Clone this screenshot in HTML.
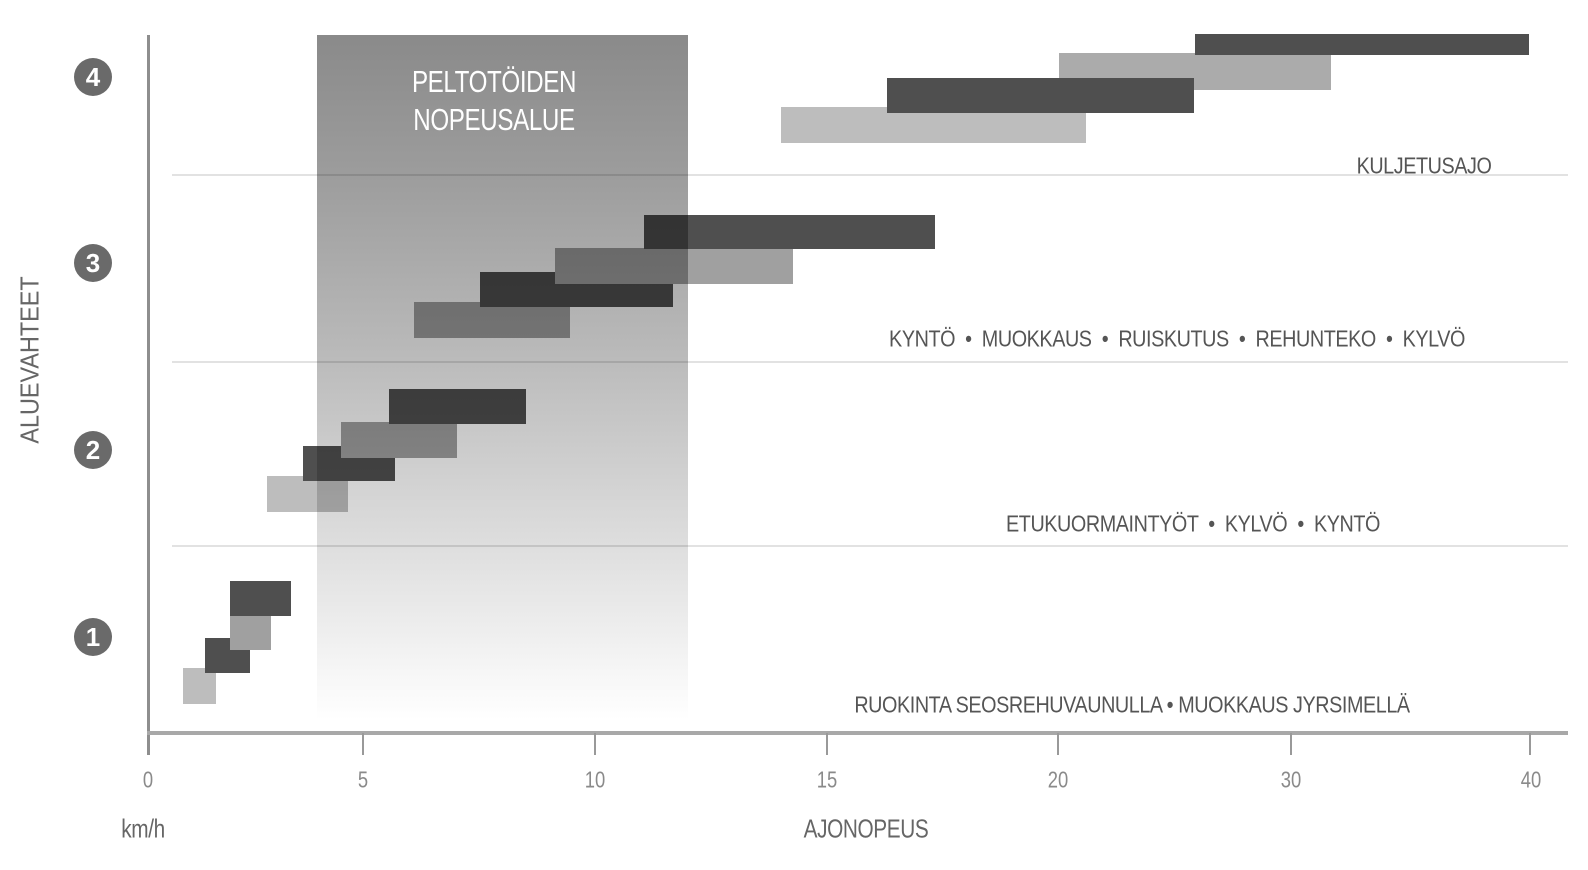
<!DOCTYPE html>
<html><head><meta charset="utf-8"><style>
html,body{margin:0;padding:0;background:#fff}
body{width:1588px;height:870px;position:relative;overflow:hidden;font-family:"Liberation Sans",sans-serif}
.a{position:absolute}
.b{position:absolute}
.L{background:#bdbdbd}.M{background:#a0a0a0}.D{background:#4f4f4f}.M2{background:#ababab}
.t{position:absolute;white-space:nowrap;transform:translate(-50%,-50%) scaleX(.86);color:#555;font-size:23px;letter-spacing:-0.5px}
.n{position:absolute;white-space:nowrap;transform:translate(-50%,-50%) scaleX(.8);color:#8a8a8a;font-size:23px}
.c{position:absolute;width:38px;height:38px;border-radius:50%;background:#6a6a6a;color:#fff;font-weight:bold;font-size:26px;line-height:38px;text-align:center}
.g{position:absolute;left:172px;width:1396px;height:2px;background:#e2e2e2}
</style></head><body>
<div class="g" style="top:174px"></div>
<div class="g" style="top:361px"></div>
<div class="g" style="top:545px"></div>
<!-- bars level1 -->
<div class="b L" style="left:183px;top:668px;width:33px;height:36px"></div>
<div class="b D" style="left:205px;top:638px;width:45px;height:35px"></div>
<div class="b M" style="left:230px;top:614px;width:41px;height:36px"></div>
<div class="b D" style="left:230px;top:581px;width:61px;height:35px"></div>
<!-- level2 -->
<div class="b L" style="left:267px;top:476px;width:81px;height:36px"></div>
<div class="b D" style="left:303px;top:446px;width:92px;height:35px"></div>
<div class="b M" style="left:341px;top:422px;width:116px;height:36px"></div>
<div class="b D" style="left:389px;top:389px;width:137px;height:35px"></div>
<!-- level3 -->
<div class="b M" style="left:414px;top:302px;width:156px;height:36px"></div>
<div class="b D" style="left:480px;top:272px;width:193px;height:35px"></div>
<div class="b M" style="left:555px;top:248px;width:238px;height:36px"></div>
<div class="b D" style="left:644px;top:215px;width:291px;height:34px"></div>
<!-- level4 -->
<div class="b L" style="left:781px;top:107px;width:305px;height:36px"></div>
<div class="b M2" style="left:1059px;top:53px;width:272px;height:37px"></div>
<div class="b D" style="left:887px;top:78px;width:307px;height:35px"></div>
<div class="b D" style="left:1195px;top:34px;width:334px;height:21px"></div>
<!-- band overlay -->
<div class="a" style="left:317px;top:35px;width:371px;height:685px;mix-blend-mode:multiply;background:linear-gradient(#8a8a8a 0%,#9c9c9c 20%,#b8b8b8 45%,#d8d8d8 70%,#fff 100%)"></div>
<!-- axes -->
<div class="a" style="left:147px;top:35px;width:3px;height:720px;background:#8e8e8e"></div>
<div class="a" style="left:147px;top:731px;width:1421px;height:4px;background:#a8a8a8"></div>
<div class="a" style="left:362px;top:733px;width:2px;height:22px;background:#999"></div>
<div class="a" style="left:594px;top:733px;width:2px;height:22px;background:#999"></div>
<div class="a" style="left:826px;top:733px;width:2px;height:22px;background:#999"></div>
<div class="a" style="left:1057px;top:733px;width:2px;height:22px;background:#999"></div>
<div class="a" style="left:1290px;top:733px;width:2px;height:22px;background:#999"></div>
<div class="a" style="left:1529px;top:733px;width:2px;height:22px;background:#999"></div>
<!-- band text -->
<div class="t" style="left:494px;top:82px;color:#fff;font-size:31px;transform:translate(-50%,-50%) scaleX(.78)">PELTOTÖIDEN</div>
<div class="t" style="left:494px;top:120px;color:#fff;font-size:31px;transform:translate(-50%,-50%) scaleX(.78)">NOPEUSALUE</div>
<!-- circles -->
<div class="c" style="left:74px;top:58px">4</div>
<div class="c" style="left:74px;top:244px">3</div>
<div class="c" style="left:74px;top:431px">2</div>
<div class="c" style="left:74px;top:618px">1</div>
<!-- labels -->
<div class="t" style="left:1424px;top:166px">KULJETUSAJO</div>
<div class="t" style="left:1177px;top:339px">KYNTÖ &nbsp;•&nbsp; MUOKKAUS &nbsp;•&nbsp; RUISKUTUS &nbsp;•&nbsp; REHUNTEKO &nbsp;•&nbsp; KYLVÖ</div>
<div class="t" style="left:1193px;top:524px">ETUKUORMAINTYÖT &nbsp;•&nbsp; KYLVÖ &nbsp;•&nbsp; KYNTÖ</div>
<div class="t" style="left:1132px;top:705px">RUOKINTA SEOSREHUVAUNULLA • MUOKKAUS JYRSIMELLÄ</div>
<!-- tick labels -->
<div class="n" style="left:148px;top:780px">0</div>
<div class="n" style="left:363px;top:780px">5</div>
<div class="n" style="left:595px;top:780px">10</div>
<div class="n" style="left:827px;top:780px">15</div>
<div class="n" style="left:1058px;top:780px">20</div>
<div class="n" style="left:1291px;top:780px">30</div>
<div class="n" style="left:1531px;top:780px">40</div>
<div class="t" style="left:143px;top:829px;color:#666;font-size:26px;transform:translate(-50%,-50%) scaleX(.8)">km/h</div>
<div class="t" style="left:866px;top:829px;color:#666;font-size:26px;transform:translate(-50%,-50%) scaleX(.8)">AJONOPEUS</div>
<div class="a" style="left:30px;top:360px;white-space:nowrap;transform:translate(-50%,-50%) rotate(-90deg) scaleX(.9);color:#666;font-size:26px">ALUEVAHTEET</div>
</body></html>
